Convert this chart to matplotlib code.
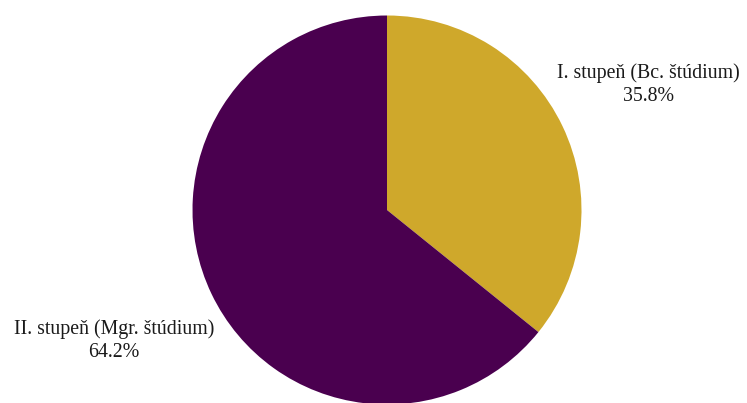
import matplotlib.pyplot as plt

labels = ['I. stupeň (Bc. štúdium)', 'II. stupeň (Mgr. štúdium)']
shares = [35.8, 64.2]
colors = ['#CFA82B', '#4A004F']

# label anchors in pixel space (x, y from top)
label_pos = [(648, 85), (114, 341)]

W, H = 747, 403
fig = plt.figure(figsize=(W / 100, H / 100), dpi=100)
ax = fig.add_axes([0, 0, 1, 1])

ax.pie(shares, colors=colors, startangle=90, counterclock=False,
       center=(387, H - 210), radius=194.5, frame=True,
       wedgeprops={'linewidth': 0})

total = sum(shares)
for name, val, (x, y) in zip(labels, shares, label_pos):
    ax.text(x, H - y, f'{name}\n{val / total * 100:.1f}%', ha='center', va='center',
            family='Liberation Serif', fontsize=14.3, color='#1a1a1a', linespacing=1.3)

ax.set_xlim(0, W)
ax.set_ylim(0, H)
ax.set_aspect('equal')
ax.axis('off')

fig.savefig('out.png', dpi=100)
